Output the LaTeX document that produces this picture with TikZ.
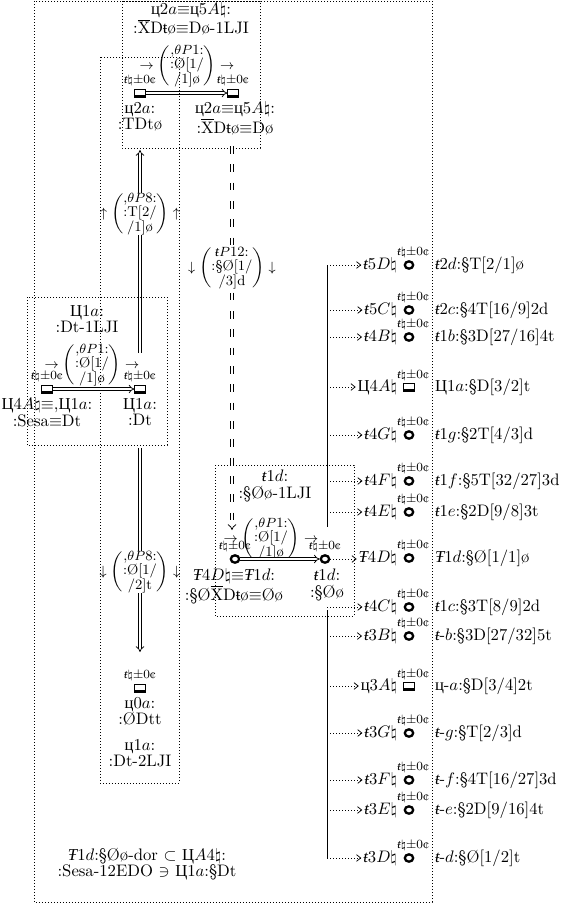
\documentclass[tikz,border=0pt]{standalone}
\usepackage{fontspec}
\newfontfamily\cyrf{Liberation Serif}
\usetikzlibrary{arrows.meta,shapes.geometric}
\newcommand\tI{{\cyrf\itshape ŧ}}
\newcommand\tU{{\cyrf ŧ}}
\newcommand\TI{{\cyrf\itshape Ŧ}}
\newcommand\Cy{{\cyrf Ц}}
\newcommand\cy{{\cyrf ц}}
\newcommand\nt{\ensuremath{\natural}}
\newcommand\eqv{\ensuremath{\equiv}}
\newcommand\Xb{\ensuremath{\overline{\mathrm{X}}}}
\newcommand\acc{\tI\nt±0¢}
\newcommand\plab[4]{$#1\left(\vcenter{\hbox{\begin{tabular}{@{}c@{}}#2\\#3\\#4\end{tabular}}}\right)#1$}
\tikzset{
  lab/.style={font=\fontsize{10}{10}\selectfont, inner sep=1pt, align=center},
  acclab/.style={font=\fontsize{7.5}{7.5}\selectfont, inner sep=0.5pt},
  sqnote/.style={rectangle, draw, line width=0.55pt, minimum width=6.2pt, minimum height=4.8pt, inner sep=0pt,
    path picture={\fill (path picture bounding box.south west) rectangle ([yshift=1pt]path picture bounding box.south east);
                  \fill ([yshift=-0.6pt]path picture bounding box.north west) rectangle (path picture bounding box.north east);}},
  rnote/.style={ellipse, draw, line width=1.4pt, minimum width=5pt, minimum height=4.4pt, inner sep=0pt},
  plabel/.style={font=\fontsize{8.5}{7.2}\selectfont, inner sep=0pt},
  box/.style={line width=0.5pt, dash pattern=on 0.6pt off 1.2pt},
  dbl/.style={double, double distance=1.3pt, line width=0.45pt, -{Implies}},
  branch/.style={line width=0.45pt, dash pattern=on 0.6pt off 1.2pt, -{Straight Barb[length=2.5pt,width=4pt]}},
  trunk/.style={line width=0.6pt},
}
\newcommand\rrow[5]{%
  \node[#3, label={[acclab,xshift=2.5pt,label distance=0.5pt]above:\acc}] (#1) at (409,#2) {};
  \node[lab, anchor=east] (#1l) at (399,#2) {#4};
  \node[lab, anchor=west] (#1r) at (433,#2) {#5};
  \coordinate (#1t) at (327,#2);
  \draw[branch] (#1t) -- (#1l.west);}
\begin{document}
\begin{tikzpicture}[x=0.6pt,y=-0.6pt]
\useasboundingbox (0,0) rectangle (561,905);

% ---------- top cluster
\node[lab] (tT) at (191,19) {\cy2$a$\eqv\cy5$A$\nt:\\:\Xb D\tU ø\eqv Dø-1LJI};
\node[plabel] (tP) at (187,66) {\plab{\rightarrow}{,$\theta P$1:}{:Ø[1/}{/1]ø}};
\node[sqnote, label={[acclab,label distance=1pt]above:\acc}] (tA) at (140,93) {};
\node[sqnote, label={[acclab,label distance=1pt]above:\acc}] (tB) at (233,93) {};
\node[lab, anchor=north] (tAl) at (140,100) {\cy2$a$:\\:TDtø};
\node[lab, anchor=north] (tBl) at (235,100) {\cy2$a$\eqv\cy5$A$\nt:\\:\Xb D\tU ø\eqv Dø};
\draw[dbl] (tA) -- (tB);

% ---------- left cluster
\node[lab] (lT) at (87,319) {\Cy1$a$:\\:Dt-1LJI};
\node[plabel] (lP) at (92,365) {\plab{\rightarrow}{,$\theta P$1:}{:Ø[1/}{/1]ø}};
\node[sqnote, label={[acclab,label distance=1pt]above:\acc}] (lA) at (47,389) {};
\node[sqnote, label={[acclab,label distance=1pt]above:\acc}] (lB) at (140,389) {};
\node[lab, anchor=north] (lAl) at (47,396) {\Cy4$A$\nt\eqv,\Cy1$a$:\\:Sesa\eqv Dt};
\node[lab, anchor=north] (lBl) at (140,396) {\Cy1$a$:\\:Dt};
\draw[dbl] (lA) -- (lB);

% ---------- bottom node
\node[sqnote, label={[acclab,label distance=1pt]above:\acc}] (bA) at (140,688) {};
\node[lab, anchor=north] (bAl) at (140,695) {\cy0$a$:\\:ØDtt};
\node[lab] (bB) at (140,753) {\cy1$a$:\\:Dt-2LJI};

% ---------- middle cluster
\node[lab] (mT) at (275,486) {\tI1$d$:\\:§Øø-1LJI};
\node[plabel] (mP) at (271,539) {\plab{\rightarrow}{,$\theta P$1:}{:Ø[1/}{/1]ø}};
\node[rnote, label={[acclab,label distance=1pt]above:\acc}] (mA) at (235,559) {};
\node[rnote, label={[acclab,label distance=1pt]above:\acc}] (mB) at (325,559) {};
\draw[dbl] (mA) -- (mB);
\node[lab, anchor=north] (mAl) at (234,567) {\TI4$D$\nt\eqv\TI1$d$:\\:§Ø\Xb D\tU ø\eqv Øø};
\node[lab, anchor=north] (mBl) at (327,567) {\tI1$d$:\\:§Øø};

% ---------- vertical connectors
\coordinate (uS) at (140,353);
\coordinate (uE) at (140,150);
\draw[dbl] (uS) -- (uE);
\node[plabel, fill=white] (uP) at (140,214) {\plab{\uparrow}{,$\theta P$8:}{:T[2/}{/1]ø}};

\coordinate (dS) at (140,448);
\coordinate (dE) at (140,652);
\draw[dbl] (dS) -- (dE);
\node[plabel, fill=white] (dP) at (140,572) {\plab{\downarrow}{,$\theta P$8:}{:Ø[1/}{/2]t}};

\coordinate (qS) at (232,146);
\coordinate (qE) at (232,530);
\draw[dbl, dash pattern=on 4.5pt off 6.5pt] (qS) -- (qE);
\node[plabel, fill=white] (qP) at (232,268) {\plab{\downarrow}{\tI$P$12:}{:§Ø[1/}{/3]d}};

% ---------- footer
\node[lab] (foot) at (147,864) {\TI1$d$:§Øø-dor $\subset$ \Cy$A$4\nt:\\:Sesa-12EDO $\ni$ \Cy1$a$:§Dt};

% ---------- right column
\rrow{r1}{265}{rnote}{\tI5$D$\nt}{\tI2$d$:§T[2/1]ø}
\rrow{r2}{310}{rnote}{\tI5$C$\nt}{\tI2$c$:§4T[16/9]2d}
\rrow{r3}{337}{rnote}{\tI4$B$\nt}{\tI1$b$:§3D[27/16]4t}
\rrow{r4}{387}{sqnote}{\Cy4$A$\nt}{\Cy1$a$:§D[3/2]t}
\rrow{r5}{435}{rnote}{\tI4$G$\nt}{\tI1$g$:§2T[4/3]d}
\rrow{r6}{481}{rnote}{\tI4$F$\nt}{\tI1$f$:§5T[32/27]3d}
\rrow{r7}{512}{rnote}{\tI4$E$\nt}{\tI1$e$:§2D[9/8]3t}
\node[rnote, label={[acclab,xshift=2.5pt,label distance=0.5pt]above:\acc}] (r8) at (409,558) {};
\node[lab, anchor=east] (r8l) at (399,558) {\TI4$D$\nt};
\node[lab, anchor=west] (r8r) at (433,558) {\TI1$d$:§Ø[1/1]ø};
\draw[branch] (mB.east) -- (mB.east -| r8l.west);
\rrow{r9}{607}{rnote}{\tI4$C$\nt}{\tI1$c$:§3T[8/9]2d}
\rrow{r10}{636}{rnote}{\tI3$B$\nt}{\tI-$b$:§3D[27/32]5t}
\rrow{r11}{686}{sqnote}{\cy3$A$\nt}{\cy-$a$:§D[3/4]2t}
\rrow{r12}{733}{rnote}{\tI3$G$\nt}{\tI-$g$:§T[2/3]d}
\rrow{r13}{780}{rnote}{\tI3$F$\nt}{\tI-$f$:§4T[16/27]3d}
\rrow{r14}{810}{rnote}{\tI3$E$\nt}{\tI-$e$:§2D[9/16]4t}
\rrow{r15}{858}{rnote}{\tI3$D$\nt}{\tI-$d$:§Ø[1/2]t}
\coordinate (mBtop) at (327,527);
\coordinate (mBbot) at (327,610);
\draw[trunk] (r1t) -- (mBtop);
\draw[trunk] (mBbot) -- (r15t);

% ---------- cluster boxes
\draw[box] (34,1) rectangle (432,902);
\draw[box] (122,1) rectangle (260,148);
\draw[box] (100,57) rectangle (179,783);
\draw[box] (27,297) rectangle (167,445);
\draw[box] (215,465) rectangle (354,616);
\end{tikzpicture}
\end{document}
